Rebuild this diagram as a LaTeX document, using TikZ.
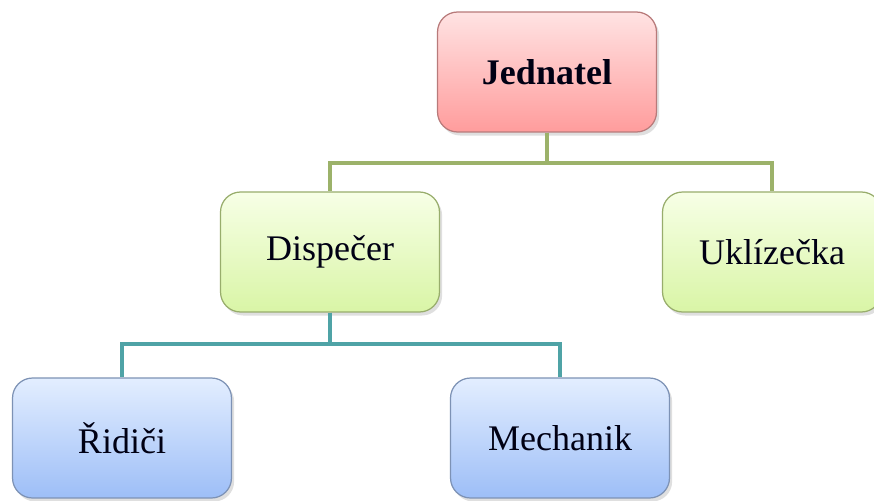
\documentclass[tikz,border=0pt]{standalone}
\usepackage{fontspec}
\setmainfont{Liberation Serif}
\usepackage{xcolor}
\usetikzlibrary{shadows}

\definecolor{redtop}{HTML}{FFE3E3}
\definecolor{redbot}{HTML}{FF9C9C}
\definecolor{redline}{HTML}{B87A7A}
\definecolor{greentop}{HTML}{F7FFE6}
\definecolor{greenbot}{HTML}{D9F5A6}
\definecolor{greenline}{HTML}{98AD6C}
\definecolor{bluetop}{HTML}{E3EEFF}
\definecolor{bluebot}{HTML}{9DBEF7}
\definecolor{blueline}{HTML}{7D92B5}
\definecolor{oliveline}{HTML}{9CB26A}
\definecolor{tealline}{HTML}{4FA3A6}

\begin{document}
\begin{tikzpicture}[x=0.02cm,y=-0.02cm,
  every node/.style={font=\fontsize{20.5}{24}\selectfont, text=black!92!blue},
  box/.style={rounded corners=0.4cm, minimum width=4.38cm, minimum height=2.4cm,
    line width=0.7pt, drop shadow={opacity=0.25, shadow xshift=1.5pt, shadow yshift=-2pt}},
  redbox/.style={box, draw=redline, top color=redtop, bottom color=redbot},
  greenbox/.style={box, draw=greenline, top color=greentop, bottom color=greenbot},
  bluebox/.style={box, draw=blueline, top color=bluetop, bottom color=bluebot},
  topline/.style={draw=oliveline, line width=2.2pt},
  lowline/.style={draw=tealline, line width=2.2pt}]
	\useasboundingbox (0,0) rectangle (874,500);
	\clip (0,0) rectangle (874,500);
	\fill[white] (0,0) rectangle (874,500);
	% levels
	\node[redbox] (jed) at (547,72) {\textbf{Jednatel}};
	\node[greenbox] (disp) at (330,252) {Dispečer};
	\node[greenbox] (ukl) at (772,252) {Uklízečka};
	\node[bluebox] (rid) at (122,438) {Řidiči};
	\node[bluebox] (mech) at (560,438) {Mechanik};
	% connectors
	\draw[topline] (jed.south) -- ++(0,30) -| (disp.north);
	\draw[topline] (jed.south) -- ++(0,30) -| (ukl.north);
	\draw[lowline] (disp.south) -- ++(0,31) -| (rid.north);
	\draw[lowline] (disp.south) -- ++(0,31) -| (mech.north);
\end{tikzpicture}
\end{document}
